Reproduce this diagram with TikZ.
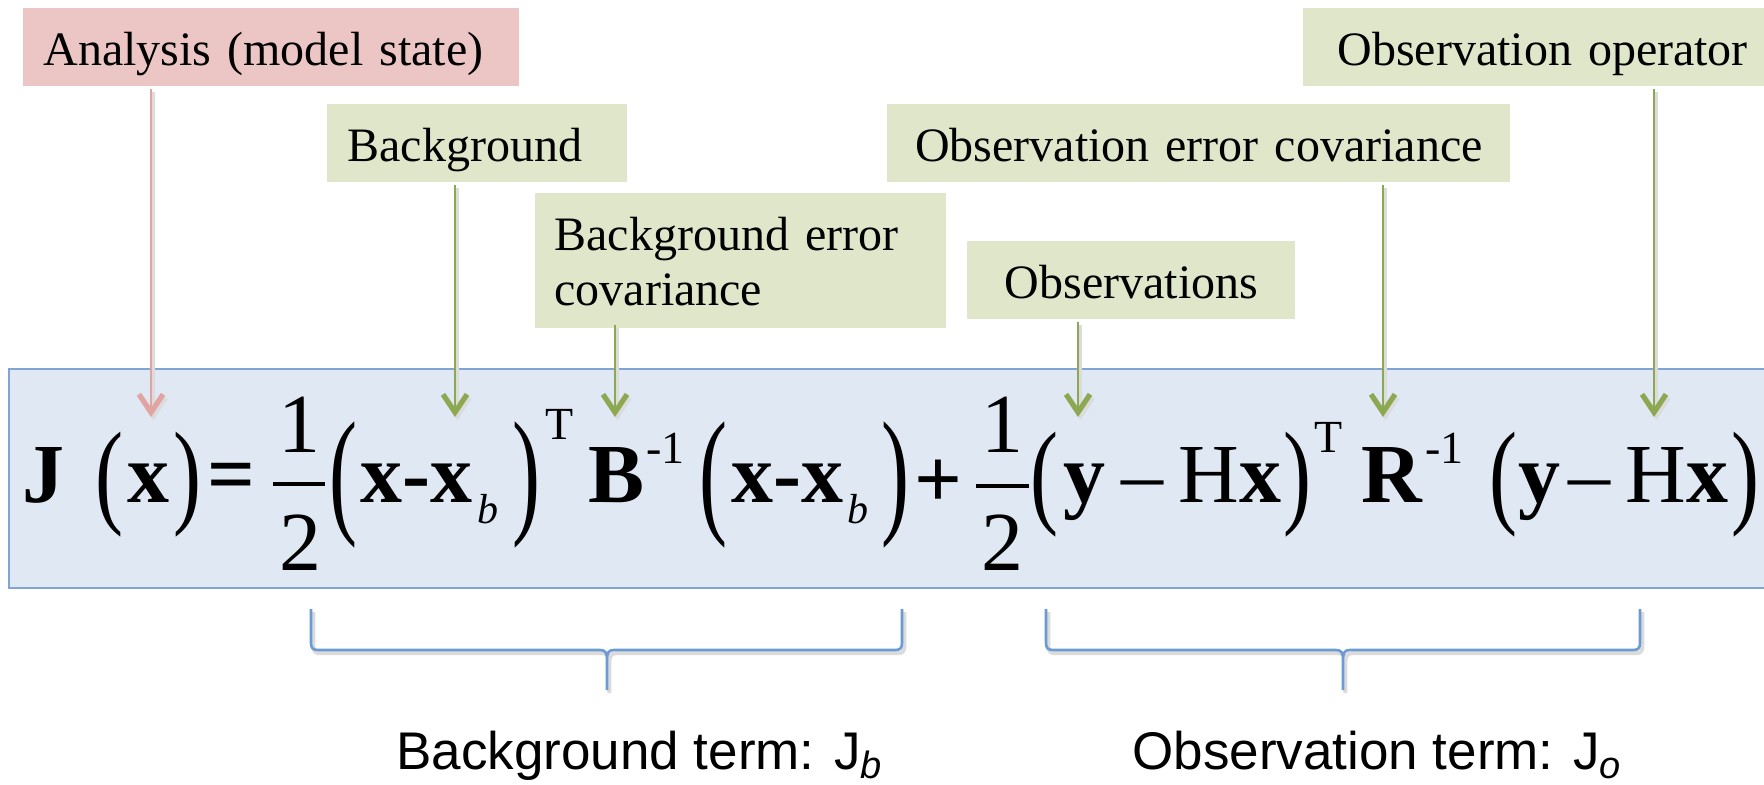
\documentclass[tikz,border=0pt]{standalone}
\usepackage{fontspec}
\usepackage{graphicx}
\setmainfont{Liberation Serif}
\newfontfamily\sansf{Liberation Sans}
\usetikzlibrary{arrows.meta}
\definecolor{pinkfill}{HTML}{ECC5C5}
\definecolor{greenfill}{HTML}{DFE6C9}
\definecolor{bluefill}{HTML}{DFE8F3}
\definecolor{blueline}{HTML}{7FA5D5}
\definecolor{arrgreen}{HTML}{8CA850}
\definecolor{arrpink}{HTML}{E2A3A3}
\definecolor{bracecol}{HTML}{6B9BD2}
\newcommand\eqsize{\fontsize{42}{42}\selectfont}
\newcommand\supsize{\fontsize{23}{23}\selectfont}
\newcommand\subsz{\fontsize{21}{21}\selectfont}
\newcommand\lpa[1]{\scalebox{1}[#1]{(}}
\newcommand\rpa[1]{\scalebox{1}[#1]{)}}
\tikzset{
  lbl/.style={anchor=north west, inner ysep=0pt, font=\fontsize{24}{27.5}\selectfont,
    text height=28.5pt, text depth=10.5pt},
  gbox/.style={lbl, fill=greenfill},
  pbox/.style={lbl, fill=pinkfill},
  eq/.style={inner sep=0pt, font=\eqsize},
  eqsup/.style={inner sep=0pt, font=\supsize},
  eqsub/.style={inner sep=0pt, font=\subsz\itshape},
  shadowed/.style={preaction={draw=black!14, line width=2pt, transform canvas={shift={(1.2pt,-1.6pt)}}}},
  garrow/.style={shadowed, draw=arrgreen, line width=1.3pt,
    -{Straight Barb[length=9pt,width=12pt,line width=2.6pt]}},
  parrow/.style={garrow, draw=arrpink},
  bracepath/.style={shadowed, draw=bracecol, line width=1.3pt, line join=round},
  fracbar/.style={line width=1.6pt},
  termlbl/.style={anchor=base west, inner sep=0pt, font=\sansf\fontsize{26.5}{26.5}\selectfont}
}
\begin{document}
\begin{tikzpicture}[x=0.5pt,y=-0.5pt]
\useasboundingbox (0,0) rectangle (1764,784);
\clip (0,0) rectangle (1764,784);

% equation box
\node[anchor=north west, draw=blueline, fill=bluefill, line width=1pt,
  minimum width=900pt, minimum height=109.5pt, inner sep=0pt] (eqbox) at (8,368) {};

% label boxes
\node[pbox, inner xsep=10pt, text width=228pt, minimum width=248pt, align=left] (ana) at (23,8) {Analysis (model state)};
\node[gbox, inner xsep=10pt, text width=130pt, minimum width=150pt, align=left] (bg) at (327,104) {Background};
\node[gbox, inner xsep=9.5pt, text width=186.5pt, minimum width=205.5pt, align=left,
  text depth=39pt] (bec) at (535,193) {Background error\\covariance};
\node[gbox, inner xsep=10pt, text width=144pt, minimum width=164pt, align=center] (obs) at (967,241) {Observations};
\node[gbox, inner xsep=10pt, text width=291.5pt, minimum width=311.5pt, align=center] (oec) at (887,104) {Observation error covariance};
\node[gbox, inner xsep=17pt, text width=226pt, minimum width=260pt, align=left] (oop) at (1303,8) {Observation operator};

% arrow tips
\coordinate (tA) at (151,417);
\coordinate (tB) at (455,417);
\coordinate (tC) at (615,417);
\coordinate (tD) at (1078,417);
\coordinate (tE) at (1383,417);
\coordinate (tF) at (1654,417);
\draw[parrow] (ana.south -| tA) ++(0,2) -- (tA);
\draw[garrow] (bg.south -| tB) ++(0,2) -- (tB);
\draw[garrow] (bec.south -| tC) ++(0,-4) -- (tC);
\draw[garrow] (obs.south -| tD) ++(0,2) -- (tD);
\draw[garrow] (oec.south -| tE) ++(0,2) -- (tE);
\draw[garrow] (oop.south -| tF) ++(0,2) -- (tF);

% equation
\node[eq, anchor=base west] (J) at (22,502) {\bfseries J};
\node[eq, anchor=base] (p1) at (109,512.5) {\lpa{1.38}};
\node[eq, anchor=base] (x1) at (148,502) {\bfseries x};
\node[eq, anchor=base] (p2) at (187,512.5) {\rpa{1.38}};
\node[eq, anchor=base] (eqs) at (231.5,502) {\bfseries =};
\node[eq, anchor=base] (n1) at (299.5,452) {1};
\node[eq, anchor=base] (d1) at (300,570) {2};
\draw[fracbar] (273,484) -- (325,484);
\node[eq, anchor=base] (p3) at (343,518) {\lpa{1.66}};
\node[eq, anchor=base west] (xx1) at (360,502) {\bfseries x-x};
\node[eqsub, anchor=base west] (b1) at (477,523) {b};
\node[eq, anchor=base] (p4) at (526,518) {\rpa{1.66}};
\node[eqsup, anchor=base] (T1) at (560,439) {T};
\node[eq, anchor=base] (B) at (617,502) {\bfseries B};
\node[eqsup, anchor=base west] (m1) at (646,463) {-1};
\node[eq, anchor=base] (p5) at (713,518) {\lpa{1.66}};
\node[eq, anchor=base west] (xx2) at (731,502) {\bfseries x-x};
\node[eqsub, anchor=base west] (b2) at (847,523) {b};
\node[eq, anchor=base] (p6) at (895,518) {\rpa{1.66}};
\node[eq, anchor=base] (plus) at (938,507) {\bfseries +};
\node[eq, anchor=base] (n2) at (1002.5,452) {1};
\node[eq, anchor=base] (d2) at (1002.5,570) {2};
\draw[fracbar] (976,486) -- (1029,486);
\node[eq, anchor=base] (p7) at (1044,512.5) {\lpa{1.38}};
\node[eq, anchor=base west] (y1) at (1063,502) {\bfseries y};
\node[eq, anchor=base] (dash1) at (1142,502) {–};
\node[eq, anchor=base west] (hx1) at (1178,502) {H\textbf{x}};
\node[eq, anchor=base] (p8) at (1297,512.5) {\rpa{1.38}};
\node[eqsup, anchor=base] (T2) at (1329,452) {T};
\node[eq, anchor=base] (R) at (1391.5,502) {\bfseries R};
\node[eqsup, anchor=base west] (m2) at (1425,463) {-1};
\node[eq, anchor=base] (p9) at (1503,512.5) {\lpa{1.38}};
\node[eq, anchor=base west] (y2) at (1518,502) {\bfseries y};
\node[eq, anchor=base] (dash2) at (1589,502) {–};
\node[eq, anchor=base west] (hx2) at (1625,502) {H\textbf{x}};
\node[eq, anchor=base] (p10) at (1745,512.5) {\rpa{1.38}};

% braces
\draw[bracepath] (311,609) -- (311,643) .. controls (311,648) and (313,650) .. (318,650)
  -- (600,650) .. controls (605,650) and (607,652) .. (607,660) -- (607,690)
  (607,660) .. controls (607,652) and (609,650) .. (614,650)
  -- (895,650) .. controls (900,650) and (902,648) .. (902,643) -- (902,609);
\draw[bracepath] (1046,609) -- (1046,643) .. controls (1046,648) and (1048,650) .. (1053,650)
  -- (1336,650) .. controls (1341,650) and (1343,652) .. (1343,660) -- (1343,690)
  (1343,660) .. controls (1343,652) and (1345,650) .. (1350,650)
  -- (1633,650) .. controls (1638,650) and (1640,648) .. (1640,643) -- (1640,609);

% term labels
\node[termlbl] (bt) at (396,769) {Background term: J\raisebox{-4.5pt}{\fontsize{19}{19}\selectfont\itshape b}};
\node[termlbl] (ot) at (1132,769) {Observation term: J\raisebox{-4.5pt}{\fontsize{19}{19}\selectfont\itshape o}};
\end{tikzpicture}
\end{document}
